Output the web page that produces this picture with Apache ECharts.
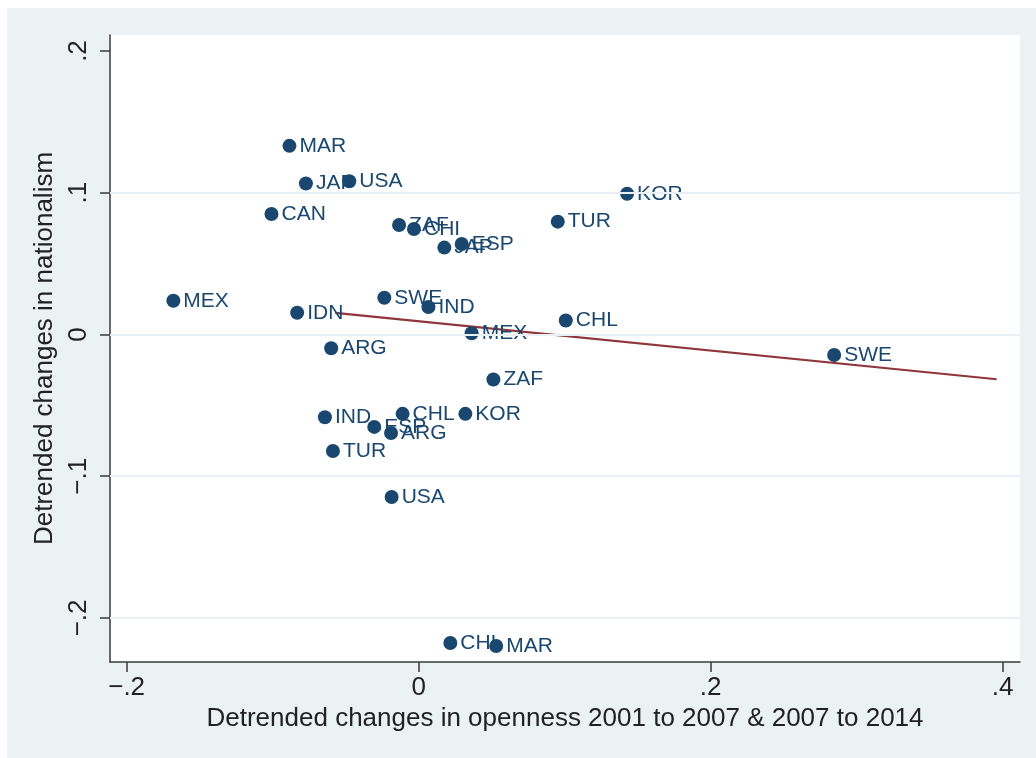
<!DOCTYPE html>
<html>
<head>
<meta charset="utf-8">
<script src="https://cdn.jsdelivr.net/npm/echarts@6/dist/echarts.min.js"></script>
<style>
  html, body { margin: 0; padding: 0; background: #ffffff; }
  #chart { position: absolute; left: 7px; top: 8px; width: 1029px; height: 750px; background: #eaf2f3; }
</style>
</head>
<body>
<div id="chart"></div>
<script>
// Country codes for each observation (two periods per country)
const countries = [
  'MAR', 'JAP', 'USA', 'CAN', 'ZAF', 'CHI', 'JAP', 'ESP', 'KOR', 'TUR',
  'MEX', 'SWE', 'IND', 'IDN', 'CHL', 'MEX', 'SWE', 'ARG', 'ZAF', 'IND',
  'CHL', 'KOR', 'ESP', 'ARG', 'TUR', 'USA', 'CHL', 'MAR'
];
// Detrended changes in openness
const openness = [
  -0.0885, -0.0772, -0.0475, -0.1008, -0.0134, -0.0032, 0.0176, 0.0295, 0.1428, 0.0953,
  -0.1680, -0.0235, 0.0067, -0.0832, 0.1008, 0.0363, 0.2846, -0.0599, 0.0512, -0.0642,
  -0.0110, 0.0320, -0.0304, -0.0189, -0.0587, -0.0185, 0.0217, 0.0531
];
// Detrended changes in nationalism
const nationalism = [
  0.1331, 0.1065, 0.1081, 0.0850, 0.0772, 0.0744, 0.0613, 0.0638, 0.0993, 0.0796,
  0.0238, 0.0259, 0.0193, 0.0153, 0.0099, 0.0009, -0.0145, -0.0097, -0.0318, -0.0584,
  -0.0560, -0.0560, -0.0652, -0.0695, -0.0822, -0.1147, -0.2177, -0.2198
];
// Linear fit endpoints (openness, nationalism)
const fitX = [-0.0571, 0.3959];
const fitY = [0.0153, -0.0316];

// Axis ticks and their labels
const xTickValues = [-0.2, 0, 0.2, 0.4];
const xTickLabels = ['\u2212.2', '0', '.2', '.4'];
const yTickValues = [-0.2, -0.1, 0, 0.1, 0.2];
const yTickLabels = ['\u2212.2', '\u2212.1', '0', '.1', '.2'];
// Horizontal grid lines (none at the top tick)
const yGridValues = [-0.2, -0.1, 0, 0.1];

const xRange = [-0.2114, 0.4119];
const yRange = [-0.2311, 0.2113];

const navy = '#1a476f';
const maroon = '#90353b';
const axisColor = '#3a3a3a';
const font = '"Liberation Sans", Arial, Helvetica, sans-serif';

const points = countries.map((c, i) => ({ value: [openness[i], nationalism[i]], name: c }));
const fitLine = fitX.map((x, i) => [x, fitY[i]]);

function lookup(values, labels) {
  return v => {
    const idx = values.findIndex(t => Math.abs(t - v) < 1e-9);
    return idx >= 0 ? labels[idx] : '';
  };
}

const chart = echarts.init(document.getElementById('chart'), null, { renderer: 'canvas' });
chart.setOption({
  animation: false,
  backgroundColor: '#eaf2f3',
  textStyle: { fontFamily: font },
  grid: {
    left: 103, top: 27, right: 16, bottom: 96,
    show: true, backgroundColor: '#ffffff', borderWidth: 0, containLabel: false
  },
  xAxis: {
    type: 'value', min: xRange[0], max: xRange[1],
    name: 'Detrended changes in openness 2001 to 2007 & 2007 to 2014',
    nameLocation: 'middle', nameGap: 40,
    nameTextStyle: { fontSize: 26, color: '#222222', fontFamily: font },
    axisLine: { show: true, onZero: false, lineStyle: { color: axisColor, width: 1.5 } },
    axisTick: { show: true, length: 10, customValues: xTickValues, lineStyle: { color: axisColor, width: 1.5 } },
    axisLabel: {
      show: true, customValues: xTickValues, formatter: lookup(xTickValues, xTickLabels),
      fontSize: 26, color: '#222222', margin: 13, fontFamily: font
    },
    splitLine: { show: false }
  },
  yAxis: {
    type: 'value', min: yRange[0], max: yRange[1],
    name: 'Detrended changes in nationalism',
    nameLocation: 'middle', nameGap: 42, nameRotate: 90,
    nameTextStyle: { fontSize: 26, color: '#222222', fontFamily: font },
    axisLine: { show: true, onZero: false, lineStyle: { color: axisColor, width: 1.5 } },
    axisTick: { show: true, length: 10, customValues: yTickValues, lineStyle: { color: axisColor, width: 1.5 } },
    axisLabel: {
      show: true, customValues: yTickValues, formatter: lookup(yTickValues, yTickLabels),
      rotate: 90, fontSize: 26, color: '#222222', margin: 18, fontFamily: font
    },
    splitLine: { show: false }
  },
  series: [
    {
      // grid lines
      type: 'line', data: [], silent: true, z: 1,
      markLine: {
        silent: true, symbol: ['none', 'none'], label: { show: false },
        lineStyle: { color: '#e8f0f3', width: 2, type: 'solid' },
        data: yGridValues.map(v => ({ yAxis: v }))
      }
    },
    {
      type: 'line', data: fitLine, showSymbol: false, symbol: 'none', z: 2, silent: true,
      lineStyle: { color: maroon, width: 2.2, opacity: 1 }
    },
    {
      type: 'scatter', data: points, symbol: 'circle', symbolSize: 14, z: 3,
      itemStyle: { color: navy, opacity: 1 },
      label: {
        show: true, position: 'right', distance: 3,
        formatter: p => p.name, color: navy, fontSize: 21, fontFamily: font
      }
    }
  ]
});
</script>
</body>
</html>
